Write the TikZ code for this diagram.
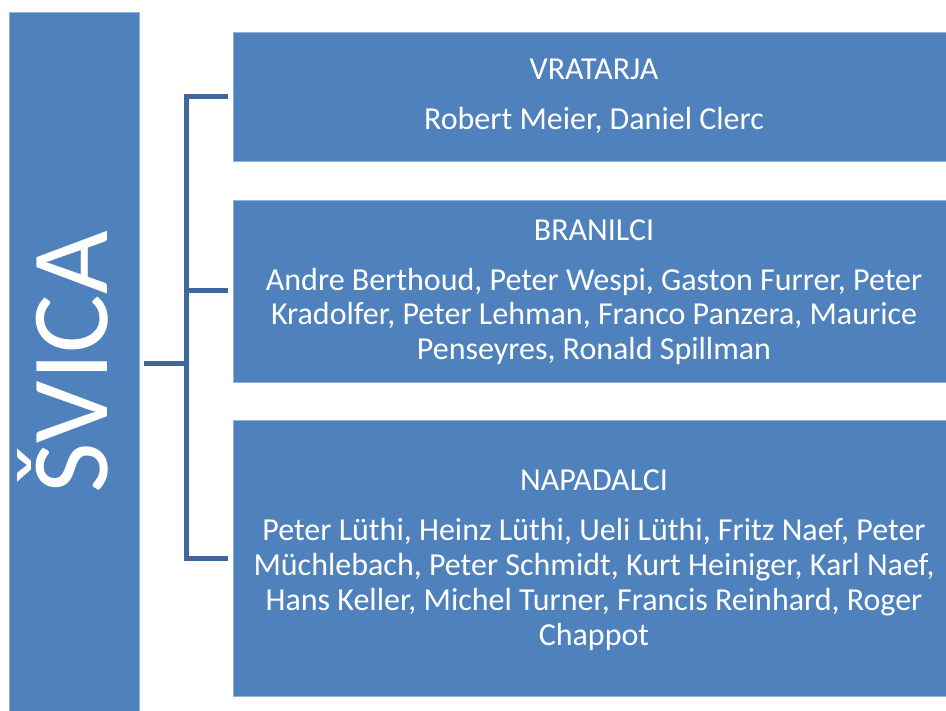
\documentclass[tikz,border=0pt]{standalone}
\usepackage{fontspec}
\setmainfont{Carlito}
\definecolor{boxblue}{HTML}{4F81BD}
\definecolor{lineblue}{HTML}{3D6899}
\begin{document}
\begin{tikzpicture}[x=1pt,y=-1pt,
	box/.style={fill=boxblue,draw=boxblue!60!white,line width=0.6pt,inner sep=0pt},
	txt/.style={text=white,align=center,anchor=base,inner sep=0pt,font=\fontsize{32}{35}\selectfont},
	link/.style={lineblue,line width=5pt}]
		\useasboundingbox (0,0) rectangle (946,711);
		\path[box] (9,12) rectangle (139,711);
		\node[text=white,rotate=90,anchor=base,inner sep=0pt,font=\fontsize{110}{110}\selectfont] (svica) at (107,362) {ŠVICA};
		\path[box] (233,32) rectangle (946,161) coordinate (vrat);
		\path[box] (233,200) rectangle (946,382) coordinate (bran);
		\path[box] (233,420) rectangle (946,696) coordinate (napad);
		% headings, then names (base = last line)
		\node[txt] (vrath) at (594,80) {VRATARJA};
		\node[txt] (vratb) at (594,130) {Robert Meier, Daniel Clerc};
		\node[txt] (branh) at (594,241) {BRANILCI};
		\node[txt] (branb) at (594,360) {Andre Berthoud, Peter Wespi, Gaston Furrer, Peter\\ Kradolfer, Peter Lehman, Franco Panzera, Maurice\\ Penseyres, Ronald Spillman};
		\node[txt] (napadh) at (594,490) {NAPADALCI};
		\node[txt] (napadb) at (594,645) {Peter Lüthi, Heinz Lüthi, Ueli Lüthi, Fritz Naef, Peter\\ Müchlebach, Peter Schmidt, Kurt Heiniger, Karl Naef,\\ Hans Keller, Michel Turner, Francis Reinhard, Roger\\ Chappot};
		\coordinate (hub) at (186,364);
		\coordinate (vratend) at (228,96.5);
		\coordinate (branend) at (228,291);
		\coordinate (napadend) at (228,558.5);
		\coordinate (svicaend) at (144,364);
		\draw[link] (vratend) -| (hub) |- (napadend);
		\draw[link] (hub) |- (branend);
		\draw[link] (svicaend) -- (hub);
\end{tikzpicture}
\end{document}
